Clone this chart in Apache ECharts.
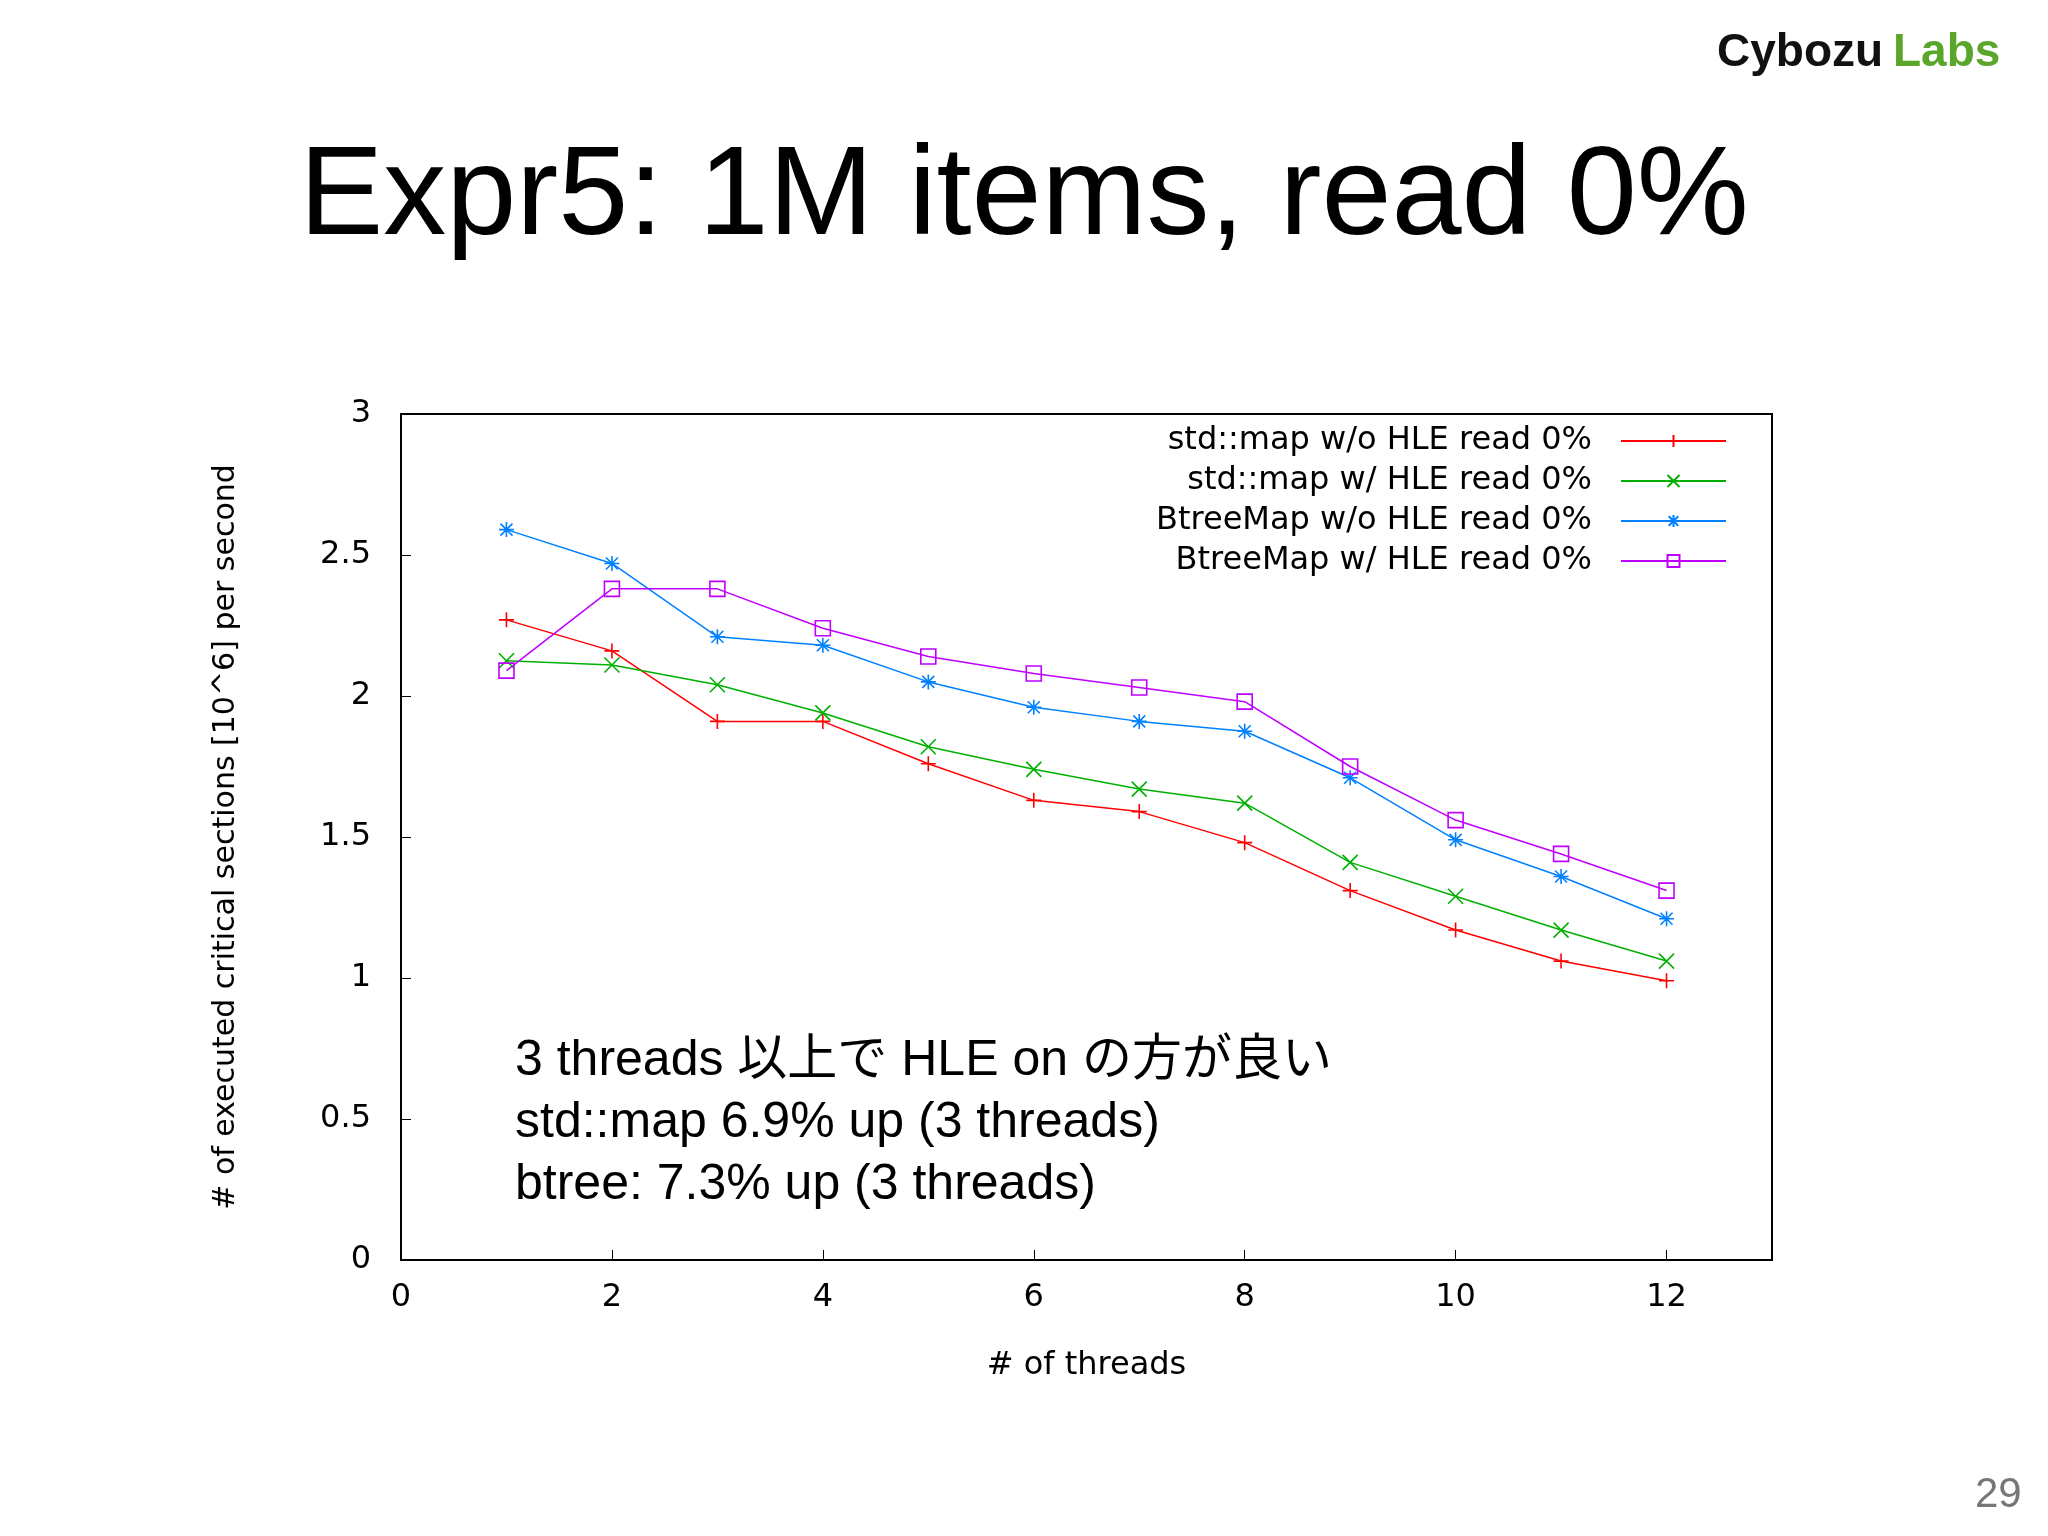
<!DOCTYPE html>
<html style="height: 100%">
<head>
    <meta charset="utf-8">
    <title>Expr5</title>
    <script src="https://cdn.jsdelivr.net/npm/echarts@6/dist/echarts.min.js"></script>
</head>
<body style="height: 100%; margin: 0; background: #fff">
    <div id="main" style="width: 2048px; height: 1536px"></div>
    <script type="text/javascript">
        // data
        var threads = [1, 2, 3, 4, 5, 6, 7, 8, 9, 10, 11, 12];
        var stdNoHle = [2.27, 2.16, 1.91, 1.91, 1.76, 1.63, 1.59, 1.48, 1.31, 1.17, 1.06, 0.99];
        var stdHle = [2.125, 2.11, 2.04, 1.94, 1.82, 1.74, 1.67, 1.62, 1.41, 1.29, 1.17, 1.06];
        var btreeNoHle = [2.59, 2.47, 2.21, 2.18, 2.05, 1.96, 1.91, 1.875, 1.71, 1.49, 1.36, 1.21];
        var btreeHle = [2.09, 2.38, 2.38, 2.24, 2.14, 2.08, 2.03, 1.98, 1.75, 1.56, 1.44, 1.31];
        var seriesNames = ['std::map w/o HLE read 0%', 'std::map w/ HLE read 0%',
                           'BtreeMap w/o HLE read 0%', 'BtreeMap w/ HLE read 0%'];
        var notes = ['3 threads 以上で HLE on の方が良い', 'std::map 6.9% up (3 threads)', 'btree: 7.3% up (3 threads)'];

        var myChart = echarts.init(document.getElementById('main'));
        var gpFont = 'DejaVu Sans';

        var plus = 'path://M0,5L10,5M5,0L5,10';
        var cross = 'path://M0,0L10,10M10,0L0,10';
        var star = 'path://M0,5L10,5M5,0L5,10M1,1L9,9M9,1L1,9';
        var square = 'path://M0,0L10,0L10,10L0,10Z';

        function pairs(vals) {
            return threads.map(function (t, i) { return [t, vals[i]]; });
        }
        function mk(name, vals, color, symbol) {
            return {
                name: name,
                type: 'line',
                data: pairs(vals),
                symbol: symbol,
                symbolSize: 15,
                showAllSymbol: true,
                lineStyle: { color: color, width: 1.5 },
                itemStyle: { color: 'rgba(0,0,0,0)', borderColor: color, borderWidth: 1.6 },
                emphasis: { disabled: true },
                animation: false
            };
        }

        var option = {
            backgroundColor: '#fff',
            grid: { left: 401, right: 276, top: 414, bottom: 276 },
            legend: {
                orient: 'vertical',
                right: 316,
                top: 420,
                align: 'right',
                itemWidth: 105,
                itemHeight: 15,
                itemGap: 8,
                textStyle: { fontFamily: gpFont, fontSize: 32, color: '#000', padding: [0, 24, 0, 0] },
                data: seriesNames
            },
            xAxis: {
                type: 'value', min: 0, max: 13, interval: 2,
                name: '# of threads', nameLocation: 'middle', nameGap: 90,
                nameTextStyle: { fontFamily: gpFont, fontSize: 32, color: '#000' },
                axisLine: { lineStyle: { color: '#000', width: 2 } },
                axisTick: { inside: true, length: 10, lineStyle: { color: '#000' } },
                axisLabel: { fontFamily: gpFont, fontSize: 32, color: '#000', margin: 22,
                             showMaxLabel: false },
                splitLine: { show: false }
            },
            yAxis: {
                type: 'value', min: 0, max: 3, interval: 0.5,
                name: '# of executed critical sections [10^6] per second',
                nameLocation: 'middle', nameGap: 160,
                nameTextStyle: { fontFamily: gpFont, fontSize: 30, color: '#000' },
                axisLine: { lineStyle: { color: '#000', width: 2 } },
                axisTick: { inside: true, length: 10, lineStyle: { color: '#000' } },
                axisLabel: { fontFamily: gpFont, fontSize: 32, color: '#000', margin: 30 },
                splitLine: { show: false }
            },
            graphic: [
                { type: 'rect', shape: { x: 401, y: 414, width: 1371, height: 846 },
                  style: { fill: 'none', stroke: '#000', lineWidth: 2 }, silent: true, z: -1 },
                { type: 'text', left: 'center', top: 136,
                  style: { text: 'Expr5: 1M items, read 0%', font: '126px "Liberation Sans"', fill: '#000' } },
                { type: 'text', x: 1717, y: 30,
                  style: { text: 'Cybozu', font: 'bold 46px "Liberation Sans"', fill: '#111' } },
                { type: 'text', x: 1893, y: 30,
                  style: { text: 'Labs', font: 'bold 46px "Liberation Sans"', fill: '#5aa62b' } },
                { type: 'text', x: 1975, y: 1474,
                  style: { text: '29', font: '42px "Liberation Sans"', fill: '#777' } },
                { type: 'text', x: 515, y: 1030,
                  style: { text: notes.join('\n'), font: '50px "Liberation Sans", "Noto Sans CJK JP"',
                           lineHeight: 62, fill: '#000' } }
            ],
            series: [
                mk(seriesNames[0], stdNoHle, '#ff0000', plus),
                mk(seriesNames[1], stdHle, '#00b000', cross),
                mk(seriesNames[2], btreeNoHle, '#0080ff', star),
                mk(seriesNames[3], btreeHle, '#c000ff', square)
            ]
        };
        myChart.setOption(option);
    </script>
</body>
</html>
